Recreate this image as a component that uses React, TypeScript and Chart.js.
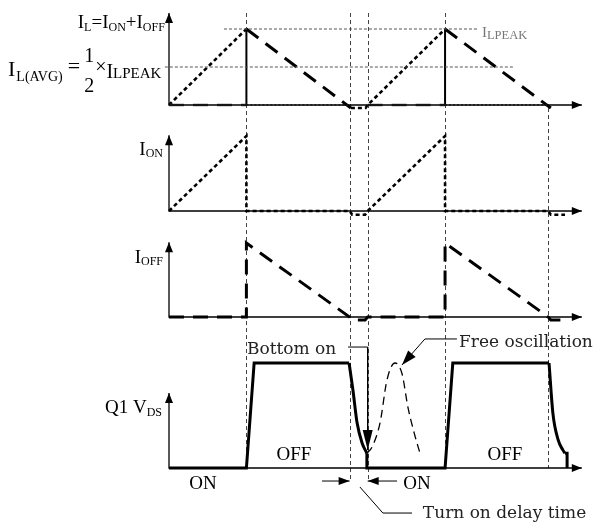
import React, { useEffect, useRef } from "react";
import { Chart, registerables } from "chart.js";

Chart.register(...registerables);

// ---------------- DATA ----------------
// time in µs; currents as a fraction of I_LPEAK; V_DS as a fraction of its OFF level
const switchTimes = [3.0, 7.0, 7.7, 10.7, 14.7];
const guideTopL = [1.21, 1.21, 1.21, 1.21, -0.04]; // on the I_L scale
const guideBottomV = [0, -0.12, -0.12, 0, 0]; // on the V_DS scale

// I_L = I_ON + I_OFF panel
const ilOnT = [0, 3.0, null, 7.05, 7.62, 7.7, 10.7];
const ilOnV = [0, 1, null, -0.04, -0.04, 0, 1];
const ilDropT = [3.0, 3.0, null, 10.7, 10.7];
const ilDropV = [1, 0, null, 1, 0];
const ilOffT = [3.0, 7.05, null, 10.7, 14.8];
const ilOffV = [1, -0.04, null, 1, -0.04];
const ilOffZeroT = [0, 3.0, null, 7.7, 10.7];
const ilOffZeroV = [0, 0, null, 0, 0];
const ilOnZeroT = [3.0, 7.0, null, 10.7, 14.7];
const ilOnZeroV = [0, 0, null, 0, 0];
const peakT = [2.13, 11.98];
const peakV = [1, 1];
const avgT = [-0.16, 13.33];
const avgV = [0.5, 0.5];

// I_ON panel
const ionT = [0, 3.0, 3.0, 7.0, 7.1, 7.6, 7.7, 10.7, 10.7, 14.7, 14.8, 15.35];
const ionV = [0, 1, 0, 0, -0.05, -0.05, 0, 1, 0, 0, -0.05, -0.05];

// I_OFF panel
const ioffT = [0, 3.0, 3.0, 7.0, 7.1, 7.6, 7.7, 10.7, 10.7, 14.7, 14.8, 15.3];
const ioffV = [0, 0, 1, 0, -0.04, -0.04, 0, 0, 1, 0, -0.04, -0.04];

// Q1 V_DS panel
const vdsT = [0, 3.0, 3.3, 6.98, null, 7.67, 7.67, 10.7, 11.0, 14.73, null, 15.35, 15.43, 15.43];
const vdsV = [0, 0, 1, 1, null, 0.14, 0, 0, 1, 1, null, 0.14, 0.14, 0];
const fall1T = [6.98, 7.13, 7.29, 7.48, 7.67];
const fall1V = [1, 0.74, 0.43, 0.24, 0.14];
const fall2T = [14.73, 14.88, 15.08, 15.27, 15.35];
const fall2V = [1, 0.52, 0.27, 0.17, 0.14];
const freeOscT = [7.67, 7.87, 8.18, 8.45, 8.76, 9.03, 9.26, 9.54, 9.73];
const freeOscV = [0.14, 0.2, 0.43, 0.84, 1.0, 0.9, 0.58, 0.3, 0.14];

// axes (tip of the vertical arrow, end of the time arrow)
const axisTips = { yL: 1.21, yOn: 1.01, yOff: 1.01, yV: 0.714 };
const axisEndT = 16.0;

// annotation leaders
const bottomOnT = [6.94, 7.7, 7.7];
const bottomOnV = [1.152, 1.152, 0.171];
const freeLeaderT = [11.16, 9.92, 9.03];
const freeLeaderV = [1.229, 1.229, 0.981];
const delayLeftT = [5.93, 7.0];
const delayRightT = [8.84, 7.7];
const delayV = [-0.124, -0.124];
const turnLeaderT = [7.4, 8.29, 9.42];
const turnLeaderV = [-0.181, -0.429, -0.429];

// ---------------- LAYOUT / STYLE ----------------
const W = 593;
const H = 524;
const ORIGIN_PX = 169;
const PX_PER_US = 25.8;
const panels: Record<string, { base: number; unit: number }> = {
  yL: { base: 105, unit: 76 },
  yOn: { base: 211, unit: 75 },
  yOff: { base: 317, unit: 74 },
  yV: { base: 468, unit: 105 },
};
const TIMES = '"Liberation Serif", "Times New Roman", serif';
const MINCHO = '"DejaVu Serif", serif';

type Seg = { text?: string; frac?: [string, string]; size: number; dy?: number; gap?: number; font?: string; up?: number; down?: number };
type Label = { t: number; v: number; axis: string; align: "left" | "right" | "center"; color?: string; segs: Seg[] };

const labels: Label[] = [
  {
    t: -0.16, v: 1.013, axis: "yL", align: "right",
    segs: [
      { text: "I", size: 19 }, { text: "L", size: 12, dy: 3 },
      { text: "=I", size: 19 }, { text: "ON", size: 12, dy: 3 },
      { text: "+I", size: 19 }, { text: "OFF", size: 12, dy: 3 },
    ],
  },
  {
    t: -6.24, v: 0.382, axis: "yL", align: "left",
    segs: [
      { text: "I", size: 22 }, { text: "L(AVG)", size: 14, dy: 5, gap: 1 },
      { text: "=", size: 22, dy: -3, gap: 5 },
      { frac: ["1", "2"], size: 20, up: -14, down: 16, gap: 4 },
      { text: "×", size: 20, dy: -3, gap: 1 },
      { text: "I", size: 20, dy: 2 }, { text: "LPEAK", size: 15, dy: 2 },
    ],
  },
  { t: 12.13, v: 0.895, axis: "yL", align: "left", color: "#777", segs: [{ text: "I", size: 15 }, { text: "LPEAK", size: 12.5, dy: 2 }] },
  { t: -0.233, v: 0.747, axis: "yOn", align: "right", segs: [{ text: "I", size: 19 }, { text: "ON", size: 12, dy: 2 }] },
  { t: -0.233, v: 0.73, axis: "yOff", align: "right", segs: [{ text: "I", size: 19 }, { text: "OFF", size: 12, dy: 2 }] },
  { t: -0.27, v: 0.524, axis: "yV", align: "right", segs: [{ text: "Q1 V", size: 19 }, { text: "DS", size: 12, dy: 3 }] },
  { t: 4.84, v: 0.076, axis: "yV", align: "center", segs: [{ text: "OFF", size: 19 }] },
  { t: 13.02, v: 0.076, axis: "yV", align: "center", segs: [{ text: "OFF", size: 19 }] },
  { t: 1.32, v: -0.2, axis: "yV", align: "center", segs: [{ text: "ON", size: 19 }] },
  { t: 9.61, v: -0.2, axis: "yV", align: "center", segs: [{ text: "ON", size: 19 }] },
  { t: 3.02, v: 1.086, axis: "yV", align: "left", color: "#222", segs: [{ text: "Bottom on", size: 17, font: MINCHO }] },
  { t: 11.24, v: 1.152, axis: "yV", align: "left", color: "#222", segs: [{ text: "Free oscillation", size: 17, font: MINCHO }] },
  { t: 9.84, v: -0.476, axis: "yV", align: "left", color: "#222", segs: [{ text: "Turn on delay time", size: 17, font: MINCHO }] },
];

function pts(ts: (number | null)[], vs: (number | null)[]) {
  let last = 0;
  return ts.map((t, i) => {
    if (t === null || vs[i] === null) return { x: last, y: null };
    last = t;
    return { x: t, y: vs[i] };
  });
}

function ds(ts: (number | null)[], vs: (number | null)[], yAxisID: string, style: any) {
  return {
    data: pts(ts, vs),
    yAxisID,
    borderColor: "#000",
    borderWidth: 1,
    pointRadius: 0,
    pointHoverRadius: 0,
    tension: 0,
    fill: false,
    spanGaps: false,
    ...style,
  };
}

function fontOf(s: Seg) {
  return `${s.size}px ${s.font ?? TIMES}`;
}

const bgPlugin = {
  id: "bg",
  beforeDraw(chart: any) {
    const c = chart.ctx;
    c.save();
    c.fillStyle = "#fff";
    c.fillRect(0, 0, chart.width, chart.height);
    c.restore();
  },
};

const guidePlugin = {
  id: "guides",
  beforeDatasetsDraw(chart: any) {
    const c = chart.ctx;
    const x = chart.scales.x;
    c.save();
    c.strokeStyle = "#444";
    c.lineWidth = 1;
    c.setLineDash([4, 3]);
    switchTimes.forEach((t, i) => {
      const px = Math.round(x.getPixelForValue(t)) + 0.5;
      c.beginPath();
      c.moveTo(px, chart.scales.yL.getPixelForValue(guideTopL[i]));
      c.lineTo(px, chart.scales.yV.getPixelForValue(guideBottomV[i]));
      c.stroke();
    });
    c.restore();
  },
};

function head(c: any, from: any, to: any, len: number, hw: number) {
  const a = Math.atan2(to.y - from.y, to.x - from.x);
  const bx = to.x - len * Math.cos(a);
  const by = to.y - len * Math.sin(a);
  c.beginPath();
  c.moveTo(to.x, to.y);
  c.lineTo(bx - hw * Math.sin(a), by + hw * Math.cos(a));
  c.lineTo(bx + hw * Math.sin(a), by - hw * Math.cos(a));
  c.closePath();
  c.fill();
}

const arrowPlugin = {
  id: "arrows",
  afterDatasetsDraw(chart: any) {
    const c = chart.ctx;
    c.save();
    c.fillStyle = "#000";
    chart.data.datasets.forEach((d: any, i: number) => {
      if (!d.arrowEnd && !d.arrowStart) return;
      const p = chart.getDatasetMeta(i).data.filter((e: any) => !e.skip);
      if (d.arrowEnd) head(c, p[p.length - 2], p[p.length - 1], d.arrowEnd[0], d.arrowEnd[1]);
      if (d.arrowStart) head(c, p[1], p[0], d.arrowStart[0], d.arrowStart[1]);
    });
    c.restore();
  },
};

const labelPlugin = {
  id: "labels",
  afterDatasetsDraw(chart: any) {
    const c = chart.ctx;
    c.save();
    c.textBaseline = "alphabetic";
    c.textAlign = "left";
    for (const lab of labels) {
      const x0 = chart.scales.x.getPixelForValue(lab.t);
      const y0 = chart.scales[lab.axis].getPixelForValue(lab.v);
      const widths = lab.segs.map((s) => {
        c.font = fontOf(s);
        if (s.frac) return Math.max(c.measureText(s.frac[0]).width, c.measureText(s.frac[1]).width);
        return c.measureText(s.text ?? "").width;
      });
      const total = widths.reduce((a, w, i) => a + w + (lab.segs[i].gap ?? 0), 0);
      let x = lab.align === "right" ? x0 - total : lab.align === "center" ? x0 - total / 2 : x0;
      c.fillStyle = lab.color ?? "#000";
      lab.segs.forEach((s, i) => {
        x += s.gap ?? 0;
        c.font = fontOf(s);
        if (s.frac) {
          const w = widths[i];
          const w1 = c.measureText(s.frac[0]).width;
          const w2 = c.measureText(s.frac[1]).width;
          c.fillText(s.frac[0], x + (w - w1) / 2, y0 + (s.up ?? 0));
          c.fillText(s.frac[1], x + (w - w2) / 2, y0 + (s.down ?? 0));
        } else {
          c.fillText(s.text ?? "", x, y0 + (s.dy ?? 0));
        }
        x += widths[i];
      });
    }
    c.restore();
  },
};

export default function App() {
  const ref = useRef<HTMLCanvasElement>(null);

  useEffect(() => {
    if (!ref.current) return;
    const DOT = { borderWidth: 2.6, borderDash: [4, 3] };
    const DASH = { borderWidth: 3, borderDash: [15, 9] };
    const AX = { borderWidth: 1.3 };
    const axis = (id: string) =>
      ds([0, 0, axisEndT], [(axisTips as any)[id], 0, 0], id, { ...AX, arrowStart: [10, 4], arrowEnd: [10, 4] });

    const datasets: any[] = [
      // axes
      axis("yL"), axis("yOn"), axis("yOff"), axis("yV"),
      // I_L panel
      ds(peakT, peakV, "yL", { borderColor: "#555", borderDash: [3, 2] }),
      ds(avgT, avgV, "yL", { borderColor: "#555", borderDash: [3, 2] }),
      ds(ilOffZeroT, ilOffZeroV, "yL", { borderColor: "#555", borderWidth: 2.5, borderDash: [15, 9] }),
      ds(ilOnZeroT, ilOnZeroV, "yL", { borderColor: "#555", borderWidth: 1.5, borderDash: [2, 2] }),
      ds(ilOnT, ilOnV, "yL", DOT),
      ds(ilDropT, ilDropV, "yL", { borderWidth: 2 }),
      ds(ilOffT, ilOffV, "yL", DASH),
      // I_ON panel
      ds(ionT, ionV, "yOn", DOT),
      // I_OFF panel
      ds(ioffT, ioffV, "yOff", DASH),
      // V_DS panel
      ds(vdsT, vdsV, "yV", { borderWidth: 3, borderJoinStyle: "miter" }),
      ds(fall1T, fall1V, "yV", { borderWidth: 3, cubicInterpolationMode: "monotone" }),
      ds(fall2T, fall2V, "yV", { borderWidth: 3, cubicInterpolationMode: "monotone" }),
      ds(freeOscT, freeOscV, "yV", { borderWidth: 1.3, borderDash: [8, 5], cubicInterpolationMode: "monotone" }),
      // annotation leaders
      ds(bottomOnT, bottomOnV, "yV", { arrowEnd: [20, 5] }),
      ds(freeLeaderT, freeLeaderV, "yV", { arrowEnd: [15, 5] }),
      ds(delayLeftT, delayV, "yV", { arrowEnd: [11, 4] }),
      ds(delayRightT, delayV, "yV", { arrowEnd: [11, 4] }),
      ds(turnLeaderT, turnLeaderV, "yV", {}),
    ];

    const yScales: any = {};
    Object.entries(panels).forEach(([id, p]) => {
      yScales[id] = {
        type: "linear",
        display: false,
        min: -(H - p.base) / p.unit,
        max: p.base / p.unit,
      };
    });

    const chart = new Chart(ref.current, {
      type: "line",
      data: { datasets },
      options: {
        responsive: false,
        maintainAspectRatio: false,
        animation: false,
        events: [],
        layout: { padding: 0 },
        plugins: { legend: { display: false }, tooltip: { enabled: false } },
        scales: {
          x: {
            type: "linear",
            display: false,
            min: -ORIGIN_PX / PX_PER_US,
            max: (W - ORIGIN_PX) / PX_PER_US,
          },
          ...yScales,
        },
      } as any,
      plugins: [bgPlugin, guidePlugin, arrowPlugin, labelPlugin],
    });
    return () => chart.destroy();
  }, []);

  return (
    <div style={{ position: "absolute", left: 0, top: 0, width: W, height: H }}>
      <canvas ref={ref} width={W} height={H} style={{ display: "block" }} />
    </div>
  );
}
